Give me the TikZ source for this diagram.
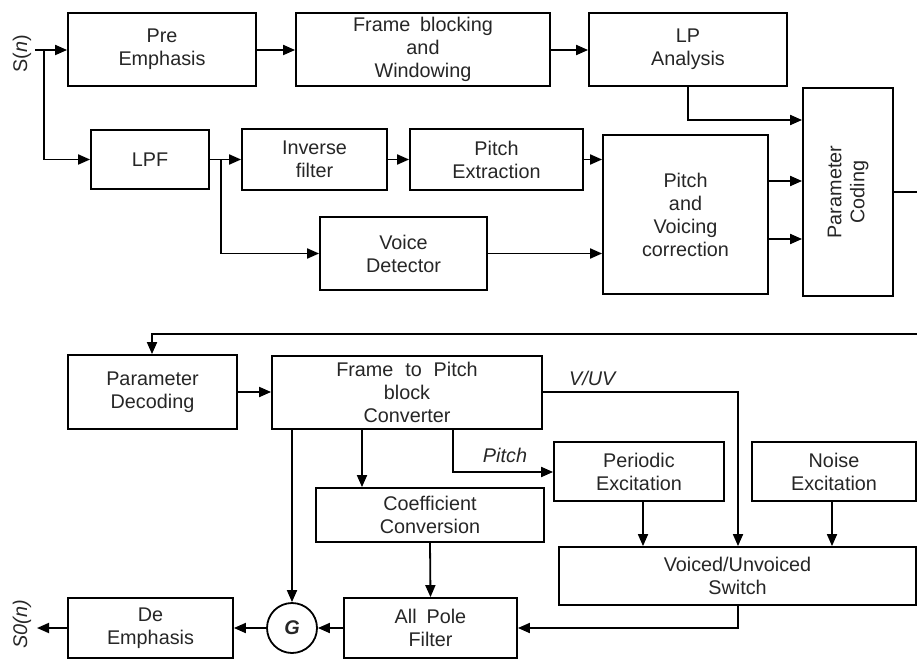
\documentclass[tikz,border=0pt]{standalone}
\usepackage{fontspec}
\setmainfont{Liberation Sans}
\usetikzlibrary{arrows.meta}
\begin{document}
\begin{tikzpicture}[x=1pt,y=-1pt,
  every node/.style={font=\fontsize{19.8}{23}\selectfont, text=black!85},
  blk/.style={draw=black, line width=1.8pt, rectangle, inner sep=0pt, align=center},
  ln/.style={line width=1.8pt, draw=black},
  arr/.style={ln, -{Triangle[length=12pt,width=10pt]}}]
\useasboundingbox (0,0) rectangle (917,660);
% top part
\node[blk, minimum width=188pt, minimum height=73pt] (pre) at (162,49.5) {Pre\\Emphasis};
\node[blk, minimum width=254pt, minimum height=73pt] (frame) at (423,49.5) {Frame\hspace{0.5em}blocking\\and\\Windowing};
\node[blk, minimum width=198pt, minimum height=73pt] (lpa) at (688,49.5) {LP\\Analysis};
\node[blk, minimum width=90pt, minimum height=208pt] (pcod) at (848,192) {};
\node[rotate=90, align=center, inner sep=0pt] (pcodt) at (pcod.center) {Parameter\\Coding};
\node[blk, minimum width=118pt, minimum height=59pt] (lpf) at (150,159.5) {LPF};
\node[blk, minimum width=145pt, minimum height=61pt] (inv) at (314.5,159.5) {Inverse\\filter};
\node[blk, minimum width=173pt, minimum height=61pt] (pext) at (496.5,159.5) {Pitch\\Extraction};
\node[blk, minimum width=167pt, minimum height=73pt] (vdet) at (403.5,253.5) {Voice\\Detector};
\node[blk, minimum width=165pt, minimum height=159pt] (pvc) at (685.5,214.5) {Pitch\\and\\Voicing\\correction};
\node[rotate=90, inner sep=0pt] (sn) at (22,54) {S(\textit{n})};
\coordinate (in) at (35,50);
\coordinate (br1) at (44,50);
\coordinate (br2) at (221,159.5);
\coordinate (lpaturn) at (688,120);
\coordinate (pa) at (0,181);
\coordinate (pb) at (0,239);
\coordinate (outc) at (917,192);
% top connectors
\draw[arr] (in) -- (pre.west |- in);
\draw[arr] (pre.east |- in) -- (frame.west |- in);
\draw[arr] (frame.east |- in) -- (lpa.west |- in);
\draw[arr] (br1) -- (br1 |- lpf.west) -- (lpf.west);
\draw[arr] (lpf.east) -- (inv.west);
\draw[arr] (br2) -- (br2 |- vdet.west) -- (vdet.west);
\draw[arr] (inv.east) -- (pext.west);
\draw[arr] (pext.east) -- (pvc.west |- pext.east);
\draw[arr] (vdet.east) -- (pvc.west |- vdet.east);
\draw[arr] (lpa.south) -- (lpaturn) -- (pcod.west |- lpaturn);
\draw[arr] (pvc.east |- pa) -- (pcod.west |- pa);
\draw[arr] (pvc.east |- pb) -- (pcod.west |- pb);
\draw[ln] (pcod.east |- outc) -- (outc);
% bottom part
\node[blk, minimum width=169pt, minimum height=74pt] (pdec) at (152.5,392) {Parameter\\Decoding};
\node[blk, minimum width=270pt, minimum height=73pt] (ftp) at (407,392.5) {Frame\hspace{0.6em}to\hspace{0.6em}Pitch\\block\\Converter};
\node[blk, minimum width=228pt, minimum height=54pt] (coef) at (430,515) {Coefficient\\Conversion};
\node[blk, minimum width=170pt, minimum height=59pt] (per) at (639,471.5) {Periodic\\Excitation};
\node[blk, minimum width=164pt, minimum height=59pt] (noise) at (834,471.5) {Noise\\Excitation};
\node[blk, minimum width=357pt, minimum height=58pt] (sw) at (737.5,576) {Voiced/Unvoiced\\Switch};
\node[blk, minimum width=173pt, minimum height=60pt] (apf) at (430.5,628) {All\hspace{0.5em}Pole\\Filter};
\node[draw=black, line width=1.8pt, circle, minimum size=50pt, inner sep=0pt] (g) at (292,628) {\textbf{\textit{G}}};
\node[blk, minimum width=165pt, minimum height=60pt] (dem) at (150.5,628) {De\\Emphasis};
\node[rotate=90, inner sep=0pt] (son) at (22,624) {\textit{S0(n)}};
\node[inner sep=0pt] (vuv) at (593,378) {\textit{V/UV}};
\node[inner sep=0pt] (pitchl) at (505,455) {\textit{Pitch}};
\coordinate (fb1) at (917,334);
\coordinate (fb2) at (152,334);
\coordinate (vx) at (738,392);
\coordinate (px) at (453,472);
\coordinate (cx) at (362,0);
\coordinate (gx) at (292,0);
\coordinate (perx) at (643,0);
\coordinate (nx) at (832,0);
\coordinate (swb) at (738,628);
\coordinate (outb) at (37,628);
% bottom connectors
\draw[arr] (fb1) -- (fb2) -- (fb2 |- pdec.north);
\draw[arr] (pdec.east) -- (ftp.west |- pdec.east);
\draw[arr] (ftp.east |- vx) -- (vx) -- (vx |- sw.north);
\draw[arr] (ftp.south -| px) -- (px) -- (per.west |- px);
\draw[arr] (ftp.south -| cx) -- (coef.north -| cx);
\draw[arr] (ftp.south -| gx) -- (g.north);
\draw[arr] (coef.south) -- (apf.north);
\draw[arr] (per.south -| perx) -- (sw.north -| perx);
\draw[arr] (noise.south -| nx) -- (sw.north -| nx);
\draw[arr] (sw.south -| swb) -- (swb) -- (apf.east |- swb);
\draw[arr] (apf.west) -- (g.east);
\draw[arr] (g.west) -- (dem.east);
\draw[arr] (dem.west) -- (outb);
\end{tikzpicture}
\end{document}
